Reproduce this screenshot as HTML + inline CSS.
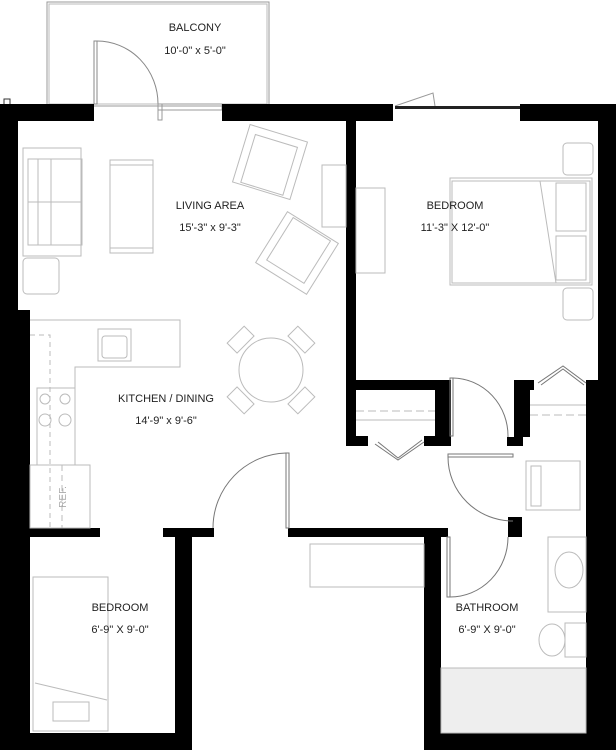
<!DOCTYPE html>
<html><head><style>
html,body{margin:0;padding:0;background:#fff;}
svg{display:block}
text{font-family:"Liberation Sans",sans-serif;font-size:11px;fill:#222;text-anchor:middle;}
</style></head><body>
<svg width="616" height="750" viewBox="0 0 616 750" xmlns="http://www.w3.org/2000/svg">
<rect width="616" height="750" fill="#fff"/>
<!-- balcony -->
<rect x="47" y="2" width="222" height="104" fill="none" stroke="#999" stroke-width="1"/>
<rect x="49" y="4" width="218" height="100" fill="none" stroke="#bbb" stroke-width="1"/>
<rect x="94" y="41" width="3" height="63" fill="none" stroke="#888"/>
<path d="M97 41 A61 63 0 0 1 158 104" fill="none" stroke="#888"/>
<rect x="158" y="104" width="64" height="6" fill="none" stroke="#999"/>
<rect x="158" y="104" width="4" height="16" fill="none" stroke="#999"/>
<!-- top window -->
<path d="M395 106 L433 93 L435 106" fill="none" stroke="#999"/>
<rect x="395" y="106" width="125" height="3" fill="#222"/>
<rect x="4" y="99" width="6" height="6" fill="none" stroke="#333"/>
<g fill="none" stroke="#bbb" stroke-width="1">
<line x1="530" y1="405" x2="586" y2="405"/>
<line x1="530" y1="415" x2="586" y2="415" stroke-dasharray="8 4"/>
</g>
<g fill="#000">
<rect x="0" y="104" width="94" height="17"/>
<rect x="222" y="104" width="171" height="17"/>
<rect x="520" y="104" width="96" height="17"/>
<rect x="0" y="104" width="18" height="646"/>
<rect x="0" y="310" width="30" height="440"/>
<rect x="598" y="104" width="18" height="646"/>
<rect x="586" y="380" width="30" height="370"/>
<rect x="346" y="118" width="10" height="327"/>
<rect x="346" y="380" width="105" height="10"/>
<rect x="435" y="380" width="16" height="66"/>
<rect x="346" y="436" width="22" height="10"/>
<rect x="424" y="436" width="27" height="10"/>
<rect x="514" y="380" width="20" height="10"/>
<rect x="514" y="380" width="16" height="57"/>
<rect x="507" y="437" width="16" height="9"/>
<rect x="588" y="380" width="28" height="10"/>
<rect x="508" y="517" width="14" height="20"/>
<rect x="0" y="528" width="100" height="9"/>
<rect x="163" y="528" width="51" height="9"/>
<rect x="288" y="528" width="160" height="9"/>
<rect x="508" y="528" width="14" height="9"/>
<rect x="175" y="528" width="17" height="222"/>
<rect x="424" y="528" width="17" height="222"/>
<rect x="0" y="733" width="192" height="17"/>
<rect x="424" y="733" width="192" height="17"/>
</g>
<g fill="none" stroke="#bbb" stroke-width="1">
<rect x="23" y="148" width="58" height="108"/>
<rect x="28" y="159" width="54" height="86"/>
<line x1="38" y1="159" x2="38" y2="245"/><line x1="51" y1="159" x2="51" y2="245"/>
<line x1="28" y1="202" x2="82" y2="202"/>
<rect x="23" y="258" width="36" height="36" rx="4"/>
<rect x="110" y="160" width="43" height="93"/>
<line x1="110" y1="165" x2="153" y2="165"/><line x1="110" y1="248" x2="153" y2="248"/>
<g transform="translate(270,162) rotate(17)"><rect x="-30" y="-30" width="60" height="60"/><rect x="-22" y="-22" width="44" height="50"/></g>
<g transform="translate(297,253) rotate(32)"><rect x="-30" y="-30" width="60" height="60"/><rect x="-22" y="-28" width="44" height="50"/></g>
<rect x="322" y="165" width="24" height="62"/>
<rect x="356" y="188" width="29" height="85"/>
<rect x="450" y="178" width="142" height="107"/>
<rect x="452" y="181" width="138" height="102"/>
<line x1="540" y1="181" x2="556" y2="283"/>
<rect x="556" y="183" width="30" height="48"/><rect x="556" y="236" width="30" height="44"/>
<rect x="563" y="143" width="30" height="32" rx="4"/>
<rect x="563" y="288" width="30" height="32" rx="4"/>
<path d="M30 320 H180 V367 H75 V465"/>
<rect x="98" y="329" width="33" height="32"/><rect x="102" y="336" width="25" height="22" rx="3"/>
<rect x="37" y="388" width="38" height="77"/>
<circle cx="45" cy="399" r="5"/><circle cx="65" cy="399" r="5"/><circle cx="45" cy="420" r="6"/><circle cx="65" cy="420" r="6"/>
<path d="M30 335 H50 V528" stroke-dasharray="5 4"/>
<rect x="30" y="465" width="60" height="63"/>
<line x1="62" y1="465" x2="62" y2="528" stroke-dasharray="6 4"/>
<circle cx="271" cy="370" r="32"/>
<g transform="translate(271,370)">
<g transform="rotate(45)"><rect x="-12" y="-50" width="24" height="14"/></g>
<g transform="rotate(135)"><rect x="-12" y="-50" width="24" height="14"/></g>
<g transform="rotate(225)"><rect x="-12" y="-50" width="24" height="14"/></g>
<g transform="rotate(315)"><rect x="-12" y="-50" width="24" height="14"/></g>
</g>
<line x1="356" y1="411" x2="435" y2="411" stroke-dasharray="8 4"/>
<line x1="356" y1="420" x2="435" y2="420"/>
<rect x="310" y="544" width="114" height="43"/>
<rect x="526" y="461" width="54" height="49"/><rect x="531" y="466" width="10" height="40"/>
<rect x="548" y="537" width="38" height="75"/>
<ellipse cx="569" cy="570" rx="14" ry="18"/>
<rect x="565" y="623" width="21" height="34"/>
<ellipse cx="552" cy="640" rx="13" ry="16"/>
<rect x="33" y="577" width="75" height="154"/>
<line x1="35" y1="683" x2="107" y2="700"/>
<rect x="53" y="702" width="36" height="19"/>
</g>
<rect x="441" y="668" width="145" height="65" fill="#eee" stroke="#bbb"/>
<g fill="none" stroke="#777" stroke-width="1">
<rect x="286" y="453" width="3" height="75"/>
<path d="M286 453 A75 75 0 0 0 213 528"/>
<rect x="450" y="378" width="3" height="58"/>
<path d="M453 378 A56 58 0 0 1 508 437"/>
<rect x="448" y="454" width="65" height="3"/>
<path d="M448 457 A65 64 0 0 0 513 521"/>
<rect x="447" y="537" width="3" height="60"/>
<path d="M450 597 A58 60 0 0 0 508 537"/>
<path d="M375 444 L398 460 L424 442"/>
<path d="M378 442 L398 458 L422 440"/>
<path d="M538 383 L563 366 L586 383"/>
<path d="M541 385 L563 369 L584 385"/>
</g>
<text x="195" y="31">BALCONY</text>
<text x="195" y="54">10'-0" x 5'-0"</text>
<text x="210" y="209">LIVING AREA</text>
<text x="210" y="231">15'-3" x 9'-3"</text>
<text x="455" y="209">BEDROOM</text>
<text x="455" y="231">11'-3" X 12'-0"</text>
<text x="166" y="402">KITCHEN / DINING</text>
<text x="166" y="424">14'-9" x 9'-6"</text>
<text x="120" y="611">BEDROOM</text>
<text x="120" y="633">6'-9" X 9'-0"</text>
<text x="487" y="611">BATHROOM</text>
<text x="487" y="633">6'-9" X 9'-0"</text>
<text x="0" y="0" transform="translate(66,497) rotate(-90)" style="fill:#aaa;font-size:10px">REF.</text>
</svg>
</body></html>
